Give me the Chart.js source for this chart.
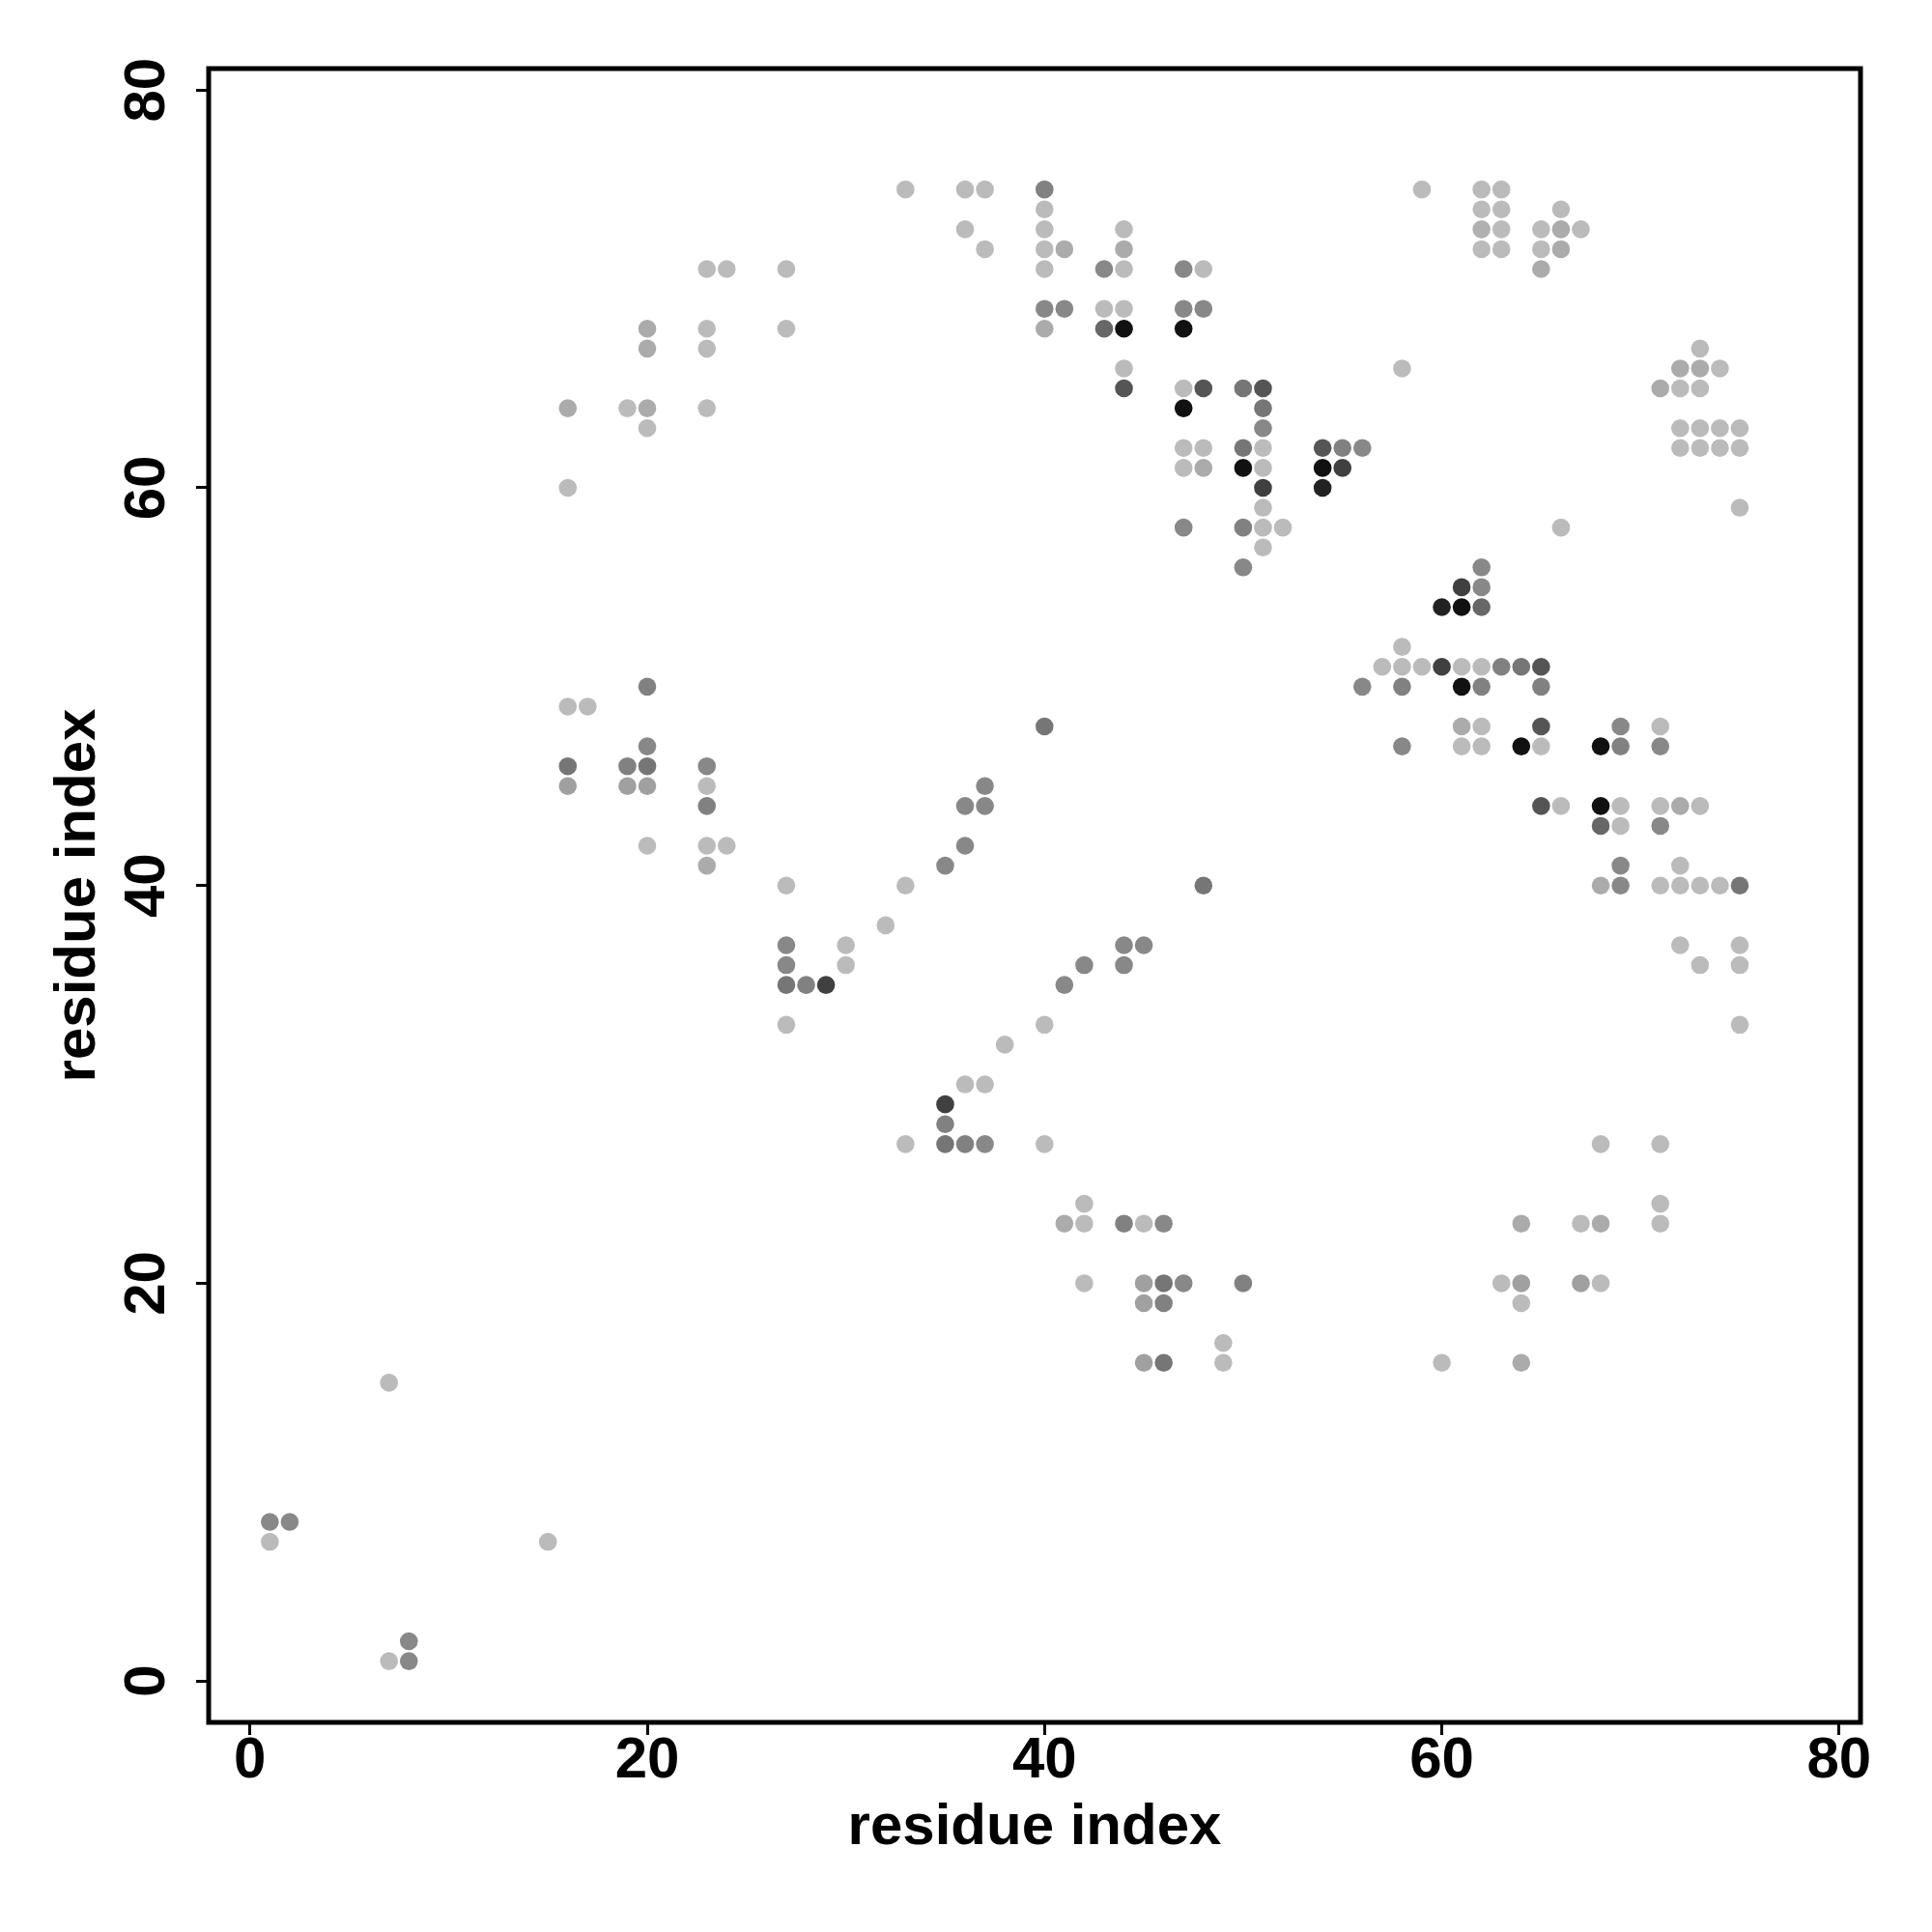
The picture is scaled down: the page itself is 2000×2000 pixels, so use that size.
<!DOCTYPE html>
<html><head><meta charset="utf-8">
<script src="https://cdn.jsdelivr.net/npm/chart.js@4/dist/chart.umd.min.js"></script>
<style>html,body{margin:0;padding:0;background:#fff}#wrap{width:2000px;height:2000px}</style>
</head><body><div id="wrap"><canvas id="c" width="2000" height="2000"></canvas></div>
<script>
// residue j (row) -> residues i in contact, with contact score
const contactRows = [75,74,73,72,71,69,68,67,66,65,64,63,62,61,60,59,58,57,56,55,54,52,51,50,49,48,47,46,45,44,43,42,41,40,38,37,36,35,33,32,30,29,28,27,24,23,20,19,17,16,15,8,7,2,1];
const contactCols = [
  [33,36,37,40,59,62,63],
  [40,62,63,66],
  [36,40,44,62,63,65,66,67],
  [37,40,41,44,62,63,65,66],
  [23,24,27,40,43,44,47,48,65],
  [40,41,43,44,47,48],
  [20,23,27,40,43,44,47],
  [20,23,73],
  [44,58,72,73,74],
  [44,47,48,50,51,71,72,73],
  [16,19,20,23,47,51],
  [20,51,72,73,74,75],
  [47,48,50,51,54,55,56,72,73,74,75],
  [47,48,50,51,54,55],
  [16,51,54],
  [51,75],
  [47,50,51,52,66],
  [51],
  [50,62],
  [61,62],
  [60,61,62],
  [58],
  [57,58,59,60,61,62,63,64,65],
  [20,56,58,61,62,65],
  [16,17],
  [40,61,62,65,69,71],
  [20,58,61,62,64,65,68,69,71],
  [16,19,20,23],
  [16,19,20,23,37],
  [23,36,37,65,66,68,69,71,72,73],
  [68,69,71],
  [20,23,24,36],
  [23,35,69,72],
  [27,33,48,68,69,71,72,73,74,75],
  [32],
  [27,30,44,45,72,75],
  [27,30,42,44,73,75],
  [27,28,29,41],
  [27,40,75],
  [38],
  [36,37],
  [35],
  [35],
  [33,35,36,37,40,68,71],
  [42,71],
  [41,42,44,45,46,64,67,68,71],
  [42,45,46,47,50,63,64,67,68],
  [45,46,64],
  [49],
  [45,46,49,60,64],
  [7],
  [1,2],
  [1,15],
  [8],
  [7,8]
];
const contactScores = [
  [.02,.02,.02,.35,.02,.02,.02],
  [.02,.02,.02,.02],
  [.02,.02,.02,.08,.02,.02,.11,.02],
  [.02,.02,.11,.11,.02,.02,.02,.11],
  [.02,.02,.02,.02,.31,.02,.31,.02,.11],
  [.31,.31,.02,.02,.31,.31],
  [.11,.02,.02,.11,.5,.99,.99],
  [.11,.02,.02],
  [.02,.02,.11,.11,.02],
  [.6,.02,.6,.41,.6,.11,.02,.02],
  [.11,.02,.11,.02,.99,.41],
  [.02,.31,.02,.02,.02,.02],
  [.02,.02,.41,.02,.6,.35,.31,.02,.02,.02,.02],
  [.02,.11,.99,.02,.99,.72],
  [.02,.72,.89],
  [.02,.02],
  [.31,.35,.02,.02,.02],
  [.02],
  [.31,.31],
  [.72,.31],
  [.89,.99,.5],
  [.02],
  [.02,.02,.02,.72,.02,.02,.35,.41,.6],
  [.35,.31,.35,.99,.35,.35],
  [.02,.02],
  [.41,.11,.02,.6,.31,.02],
  [.31,.31,.02,.02,.99,.02,.99,.35,.31],
  [.41,.35,.41,.31],
  [.17,.17,.17,.02,.31],
  [.35,.31,.31,.6,.02,.99,.02,.02,.11,.02],
  [.5,.02,.31],
  [.02,.02,.02,.31],
  [.11,.31,.31,.02],
  [.02,.02,.41,.11,.31,.02,.02,.02,.02,.41],
  [.02],
  [.31,.02,.31,.31,.02,.02],
  [.31,.02,.31,.31,.02,.02],
  [.41,.35,.72,.31],
  [.02,.02,.02],
  [.02],
  [.02,.02],
  [.72],
  [.35],
  [.02,.41,.35,.31,.02,.02,.02],
  [.02,.02],
  [.11,.02,.35,.02,.31,.11,.02,.11,.02],
  [.02,.17,.41,.31,.35,.02,.17,.17,.02],
  [.17,.35,.02],
  [.02],
  [.17,.41,.02,.02,.11],
  [.02],
  [.31,.31],
  [.02,.02],
  [.31],
  [.02,.31]
];
const tickValues = [0,20,40,60,80];
const xTitle = 'residue index';
const yTitle = 'residue index';
const residueRange = [1,78];

const points = [], colors = [];
contactRows.forEach((j, r) => {
  contactCols[r].forEach((i, k) => {
    points.push({x: i, y: j});
    const g = Math.round(190 - 175 * contactScores[r][k]);
    colors.push(`rgb(${g},${g},${g})`);
  });
});
const ext = (residueRange[1] - residueRange[0]) * 0.04;
const lim = [residueRange[0] - ext, residueRange[1] + ext];
const FONT = "'Liberation Sans', Arial, Helvetica, sans-serif";

const boxPlugin = {
  id: 'box',
  afterDraw(chart) {
    const {ctx, chartArea: a} = chart;
    ctx.save();
    ctx.strokeStyle = '#000';
    ctx.lineWidth = 5;
    ctx.strokeRect(a.left, a.top, a.right - a.left, a.bottom - a.top);
    ctx.restore();
  }
};

new Chart(document.getElementById('c'), {
  type: 'scatter',
  data: { datasets: [{
    data: points,
    pointBackgroundColor: colors,
    pointBorderWidth: 0,
    pointRadius: 9.3,
    pointHoverRadius: 9.3,
    showLine: false
  }]},
  options: {
    responsive: false,
    devicePixelRatio: 1,
    animation: false,
    layout: { padding: { top: 71, right: 74, bottom: 0, left: 0 } },
    plugins: { legend: { display: false }, tooltip: { enabled: false } },
    scales: {
      x: {
        type: 'linear', min: lim[0], max: lim[1],
        afterBuildTicks: s => { s.ticks = tickValues.map(v => ({value: v})); },
        afterFit: s => { s.height = 217; },
        border: { display: false },
        grid: { display: true, drawOnChartArea: false, drawTicks: true, tickLength: 13, lineWidth: 3, color: '#000' },
        ticks: { color: '#000', padding: -3, maxRotation: 0, autoSkip: false,
                 font: { family: FONT, weight: 'bold', size: 60, lineHeight: 1 } },
        title: { display: true, text: xTitle, color: '#000', padding: { top: 0, bottom: 72 },
                 font: { family: FONT, weight: 'bold', size: 60, lineHeight: 1.2 } }
      },
      y: {
        type: 'linear', min: lim[0], max: lim[1],
        afterBuildTicks: s => { s.ticks = tickValues.map(v => ({value: v})); },
        afterFit: s => { s.width = 216; },
        border: { display: false },
        grid: { display: true, drawOnChartArea: false, drawTicks: true, tickLength: 13, lineWidth: 3, color: '#000' },
        ticks: { color: '#000', padding: 16.5, minRotation: 90, maxRotation: 90, crossAlign: 'center', autoSkip: false,
                 font: { family: FONT, weight: 'bold', size: 60, lineHeight: 1 } },
        title: { display: true, text: yTitle, color: '#000', padding: { top: 45, bottom: 0 },
                 font: { family: FONT, weight: 'bold', size: 60, lineHeight: 1.2 } }
      }
    }
  },
  plugins: [boxPlugin]
});
</script></body></html>
